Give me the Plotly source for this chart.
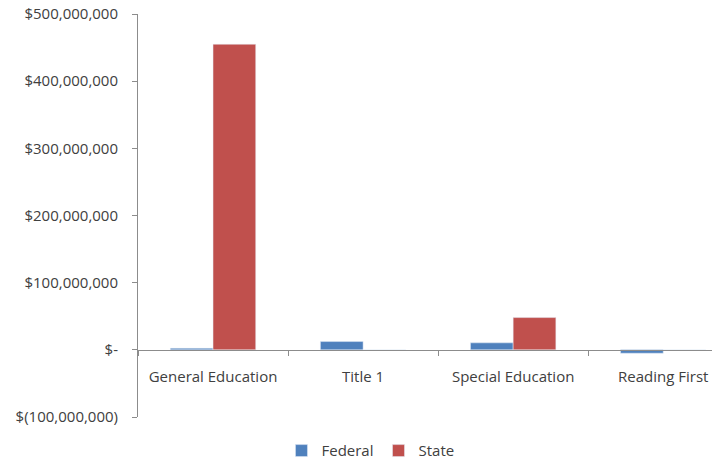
import plotly.graph_objects as go

# ── Data ──────────────────────────────────────────────────────────────────────

categories = ["General Education", "Title 1", "Special Education", "Reading First"]
federal = [2_400_000, 12_300_000, 10_400_000, -5_000_000]
state = [455_000_000, 0, 48_000_000, 0]

tick_vals = [-100_000_000, 0, 100_000_000, 200_000_000, 300_000_000, 400_000_000, 500_000_000]
tick_text = ["$(100,000,000)", "$-", "$100,000,000", "$200,000,000",
             "$300,000,000", "$400,000,000", "$500,000,000"]

COLORS = {
    "federal": "#4f81bd",
    "state":   "#c0504d",
    "axis":    "#8c8c8c",
    "text":    "#404040",
}

fig = go.Figure()
fig.add_trace(go.Bar(x=categories, y=federal, name="Federal",
                     marker_color=COLORS["federal"]))
fig.add_trace(go.Bar(x=categories, y=state, name="State",
                     marker_color=COLORS["state"]))

fig.update_layout(
    width=712, height=463,
    paper_bgcolor="white",
    plot_bgcolor="white",
    font=dict(family="Open Sans", size=15, color=COLORS["text"]),
    margin=dict(l=138, r=0, t=14, b=46, autoexpand=False),
    barmode="group",
    bargap=0.431,
    bargroupgap=0,
    showlegend=True,
    legend=dict(orientation="h", x=0.405, xanchor="center", y=-0.084, yanchor="middle",
                font=dict(size=15), itemwidth=30, traceorder="normal"),
    # the original chart is cut off on the right, partway through the last category
    xaxis=dict(
        range=[-0.5, 3.325],
        anchor="free", position=0.166, automargin=False,
        showline=True, linecolor=COLORS["axis"], linewidth=1,
        ticks="outside", tickson="boundaries", ticklen=5, tickcolor=COLORS["axis"],
        ticklabelstandoff=13,
        showgrid=False, zeroline=False,
    ),
    yaxis=dict(
        range=[-100_000_000, 500_000_000], automargin=False,
        tickvals=tick_vals, ticktext=tick_text,
        showline=True, linecolor=COLORS["axis"], linewidth=1,
        ticks="outside", ticklen=5, tickcolor=COLORS["axis"],
        ticklabelstandoff=11,
        showgrid=False, zeroline=False,
    ),
)

# drop the default 8px page margin so the figure sits at the window's corner
fig.write_html("out.html", config={"displayModeBar": False},
               post_script="document.body.style.margin='0';")
